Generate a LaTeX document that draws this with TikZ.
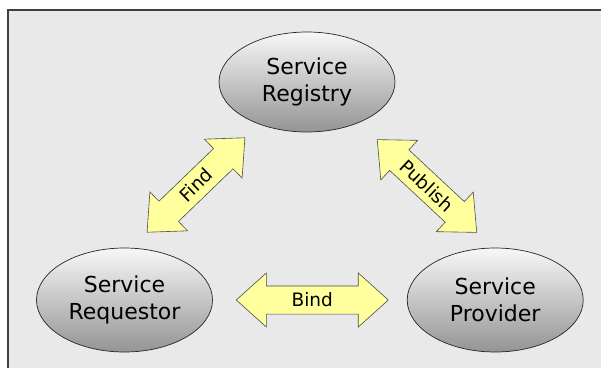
\documentclass[tikz,border=0pt]{standalone}
\usepackage{fontspec}
\setmainfont{DejaVu Sans}
\usetikzlibrary{positioning,shapes}

\definecolor{panel}{HTML}{E9E9E9}
\definecolor{frame}{HTML}{404040}
\definecolor{linkfill}{HTML}{FFFF9E}

\tikzset{
  service/.style={ellipse, draw=black!85, line width=0.7pt, shading=axis,
    top color=black!3, bottom color=black!42, minimum width=176pt,
    minimum height=104pt, inner sep=0pt, align=center,
    font=\fontsize{22}{26.5}\selectfont},
  link/.style={double arrow, draw=black!70, line width=0.6pt, fill=linkfill,
    minimum height=152pt, double arrow head extend=13pt,
    double arrow tip angle=84, inner xsep=2pt, inner ysep=7pt,
    text height=13.5pt, text depth=0pt, font=\fontsize{18.5}{20}\selectfont}
}

\begin{document}
\begin{tikzpicture}[x=1pt,y=1pt]
\useasboundingbox (0,0) rectangle (601,367);
\fill[panel] (8,-10) rectangle (615,357);
\draw[frame, line width=1.5pt] (8,-10) -- (8,357) -- (615,357);

\node[service](req) at (124.5,67){Service\\Requestor};
\node[service](prov)[right = 194pt of req]{Service\\Provider};
\node[service, minimum height=100pt](reg) at (307,285){Service\\Registry};

\node[link](bind)[right = 23pt of req]{Bind};
\node[link, minimum height=136pt, rotate=44](find) at (196,182){Find};
\node[link, minimum height=136pt, rotate=-43](pub) at (427,181){Publish};

\end{tikzpicture}
\end{document}
